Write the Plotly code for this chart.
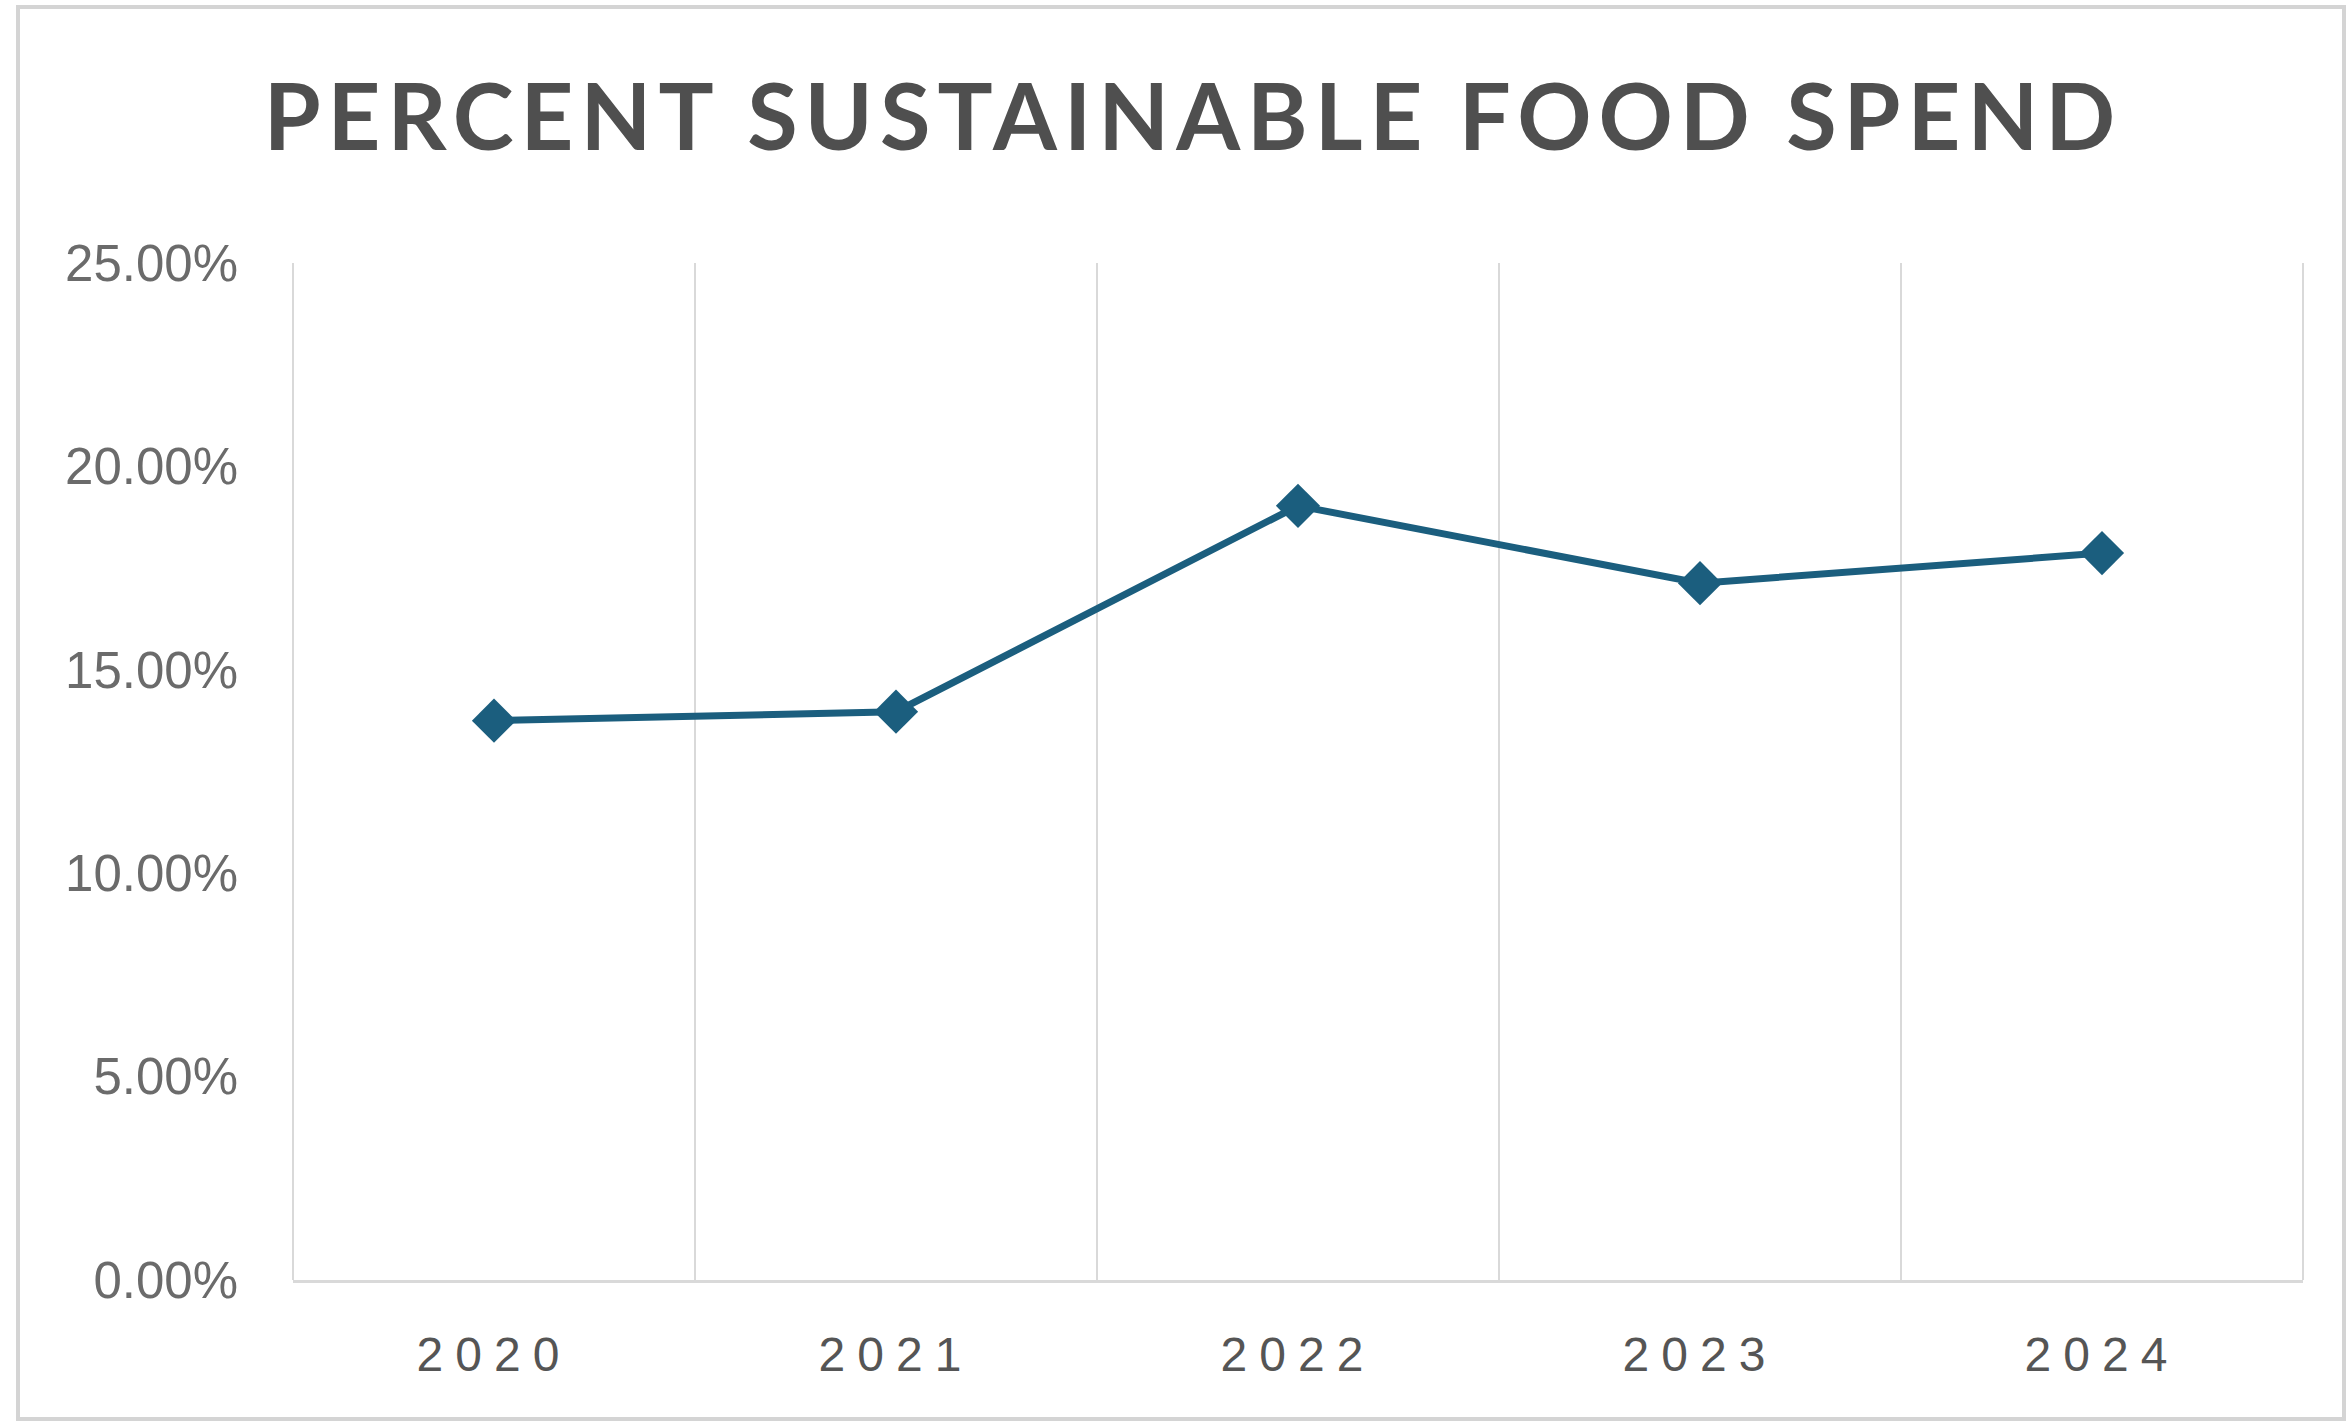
import plotly.graph_objects as go

years = ["2020", "2021", "2022", "2023", "2024"]
share = [0.1375, 0.1397, 0.1903, 0.1713, 0.1787]
y_ticks = [0, 0.05, 0.10, 0.15, 0.20, 0.25]
title_text = "PERCENT SUSTAINABLE FOOD SPEND"

W, H = 2346, 1421
L, R, T, B = 293, 43, 263, 141

fig = go.Figure()
fig.add_trace(go.Scatter(
    x=years, y=share, mode="lines+markers",
    line=dict(color="#1b5e7e", width=7),
    marker=dict(symbol="diamond", size=34, color="#1b5e7e"),
    showlegend=False, hoverinfo="skip",
))

fig.update_layout(
    width=W, height=H,
    margin=dict(l=L, r=R, t=T, b=B),
    paper_bgcolor="white", plot_bgcolor="white",
    title=dict(text="<b>" + title_text + "</b>", x=1193 / W, xanchor="center",
               y=1 - 118 / H, yanchor="middle",
               font=dict(family="Lato", size=92, color="#4f4f4f")),
    xaxis=dict(type="category", tickson="boundaries", showgrid=True,
               gridcolor="#d9d9d9", gridwidth=2, ticks="",
               showline=True, linecolor="#d9d9d9", linewidth=3,
               mirror=False, ticklabelstandoff=30,
               tickfont=dict(family="Liberation Sans", size=48, color="#555555"),
               range=[-0.5, 4.5]),
    yaxis=dict(range=[0, 0.25], tickvals=y_ticks, tickformat=".2%",
               showgrid=False, zeroline=False, showline=False, ticks="",
               ticklabelstandoff=54,
               tickfont=dict(family="Liberation Sans", size=51, color="#6b6b6b")),
    shapes=[
        dict(type="rect", xref="paper", yref="paper",
             x0=(18 - L) / (W - L - R), x1=(W - 2 - L) / (W - L - R),
             y0=-(B - 2) / (H - T - B), y1=1 + (T - 7) / (H - T - B),
             line=dict(color="#d4d4d4", width=4), layer="below"),
        dict(type="line", xref="paper", yref="paper", x0=0, x1=0, y0=0, y1=1,
             line=dict(color="#d9d9d9", width=2), layer="below"),
        dict(type="line", xref="paper", yref="paper", x0=1, x1=1, y0=0, y1=1,
             line=dict(color="#d9d9d9", width=2), layer="below"),
    ],
)

post = """
document.querySelectorAll('.gtitle').forEach(function(e){ e.style.letterSpacing='7px'; });
document.querySelectorAll('.xtick text').forEach(function(e){ e.style.letterSpacing='12px'; });
"""
fig.write_html("out.html", post_script=post)
